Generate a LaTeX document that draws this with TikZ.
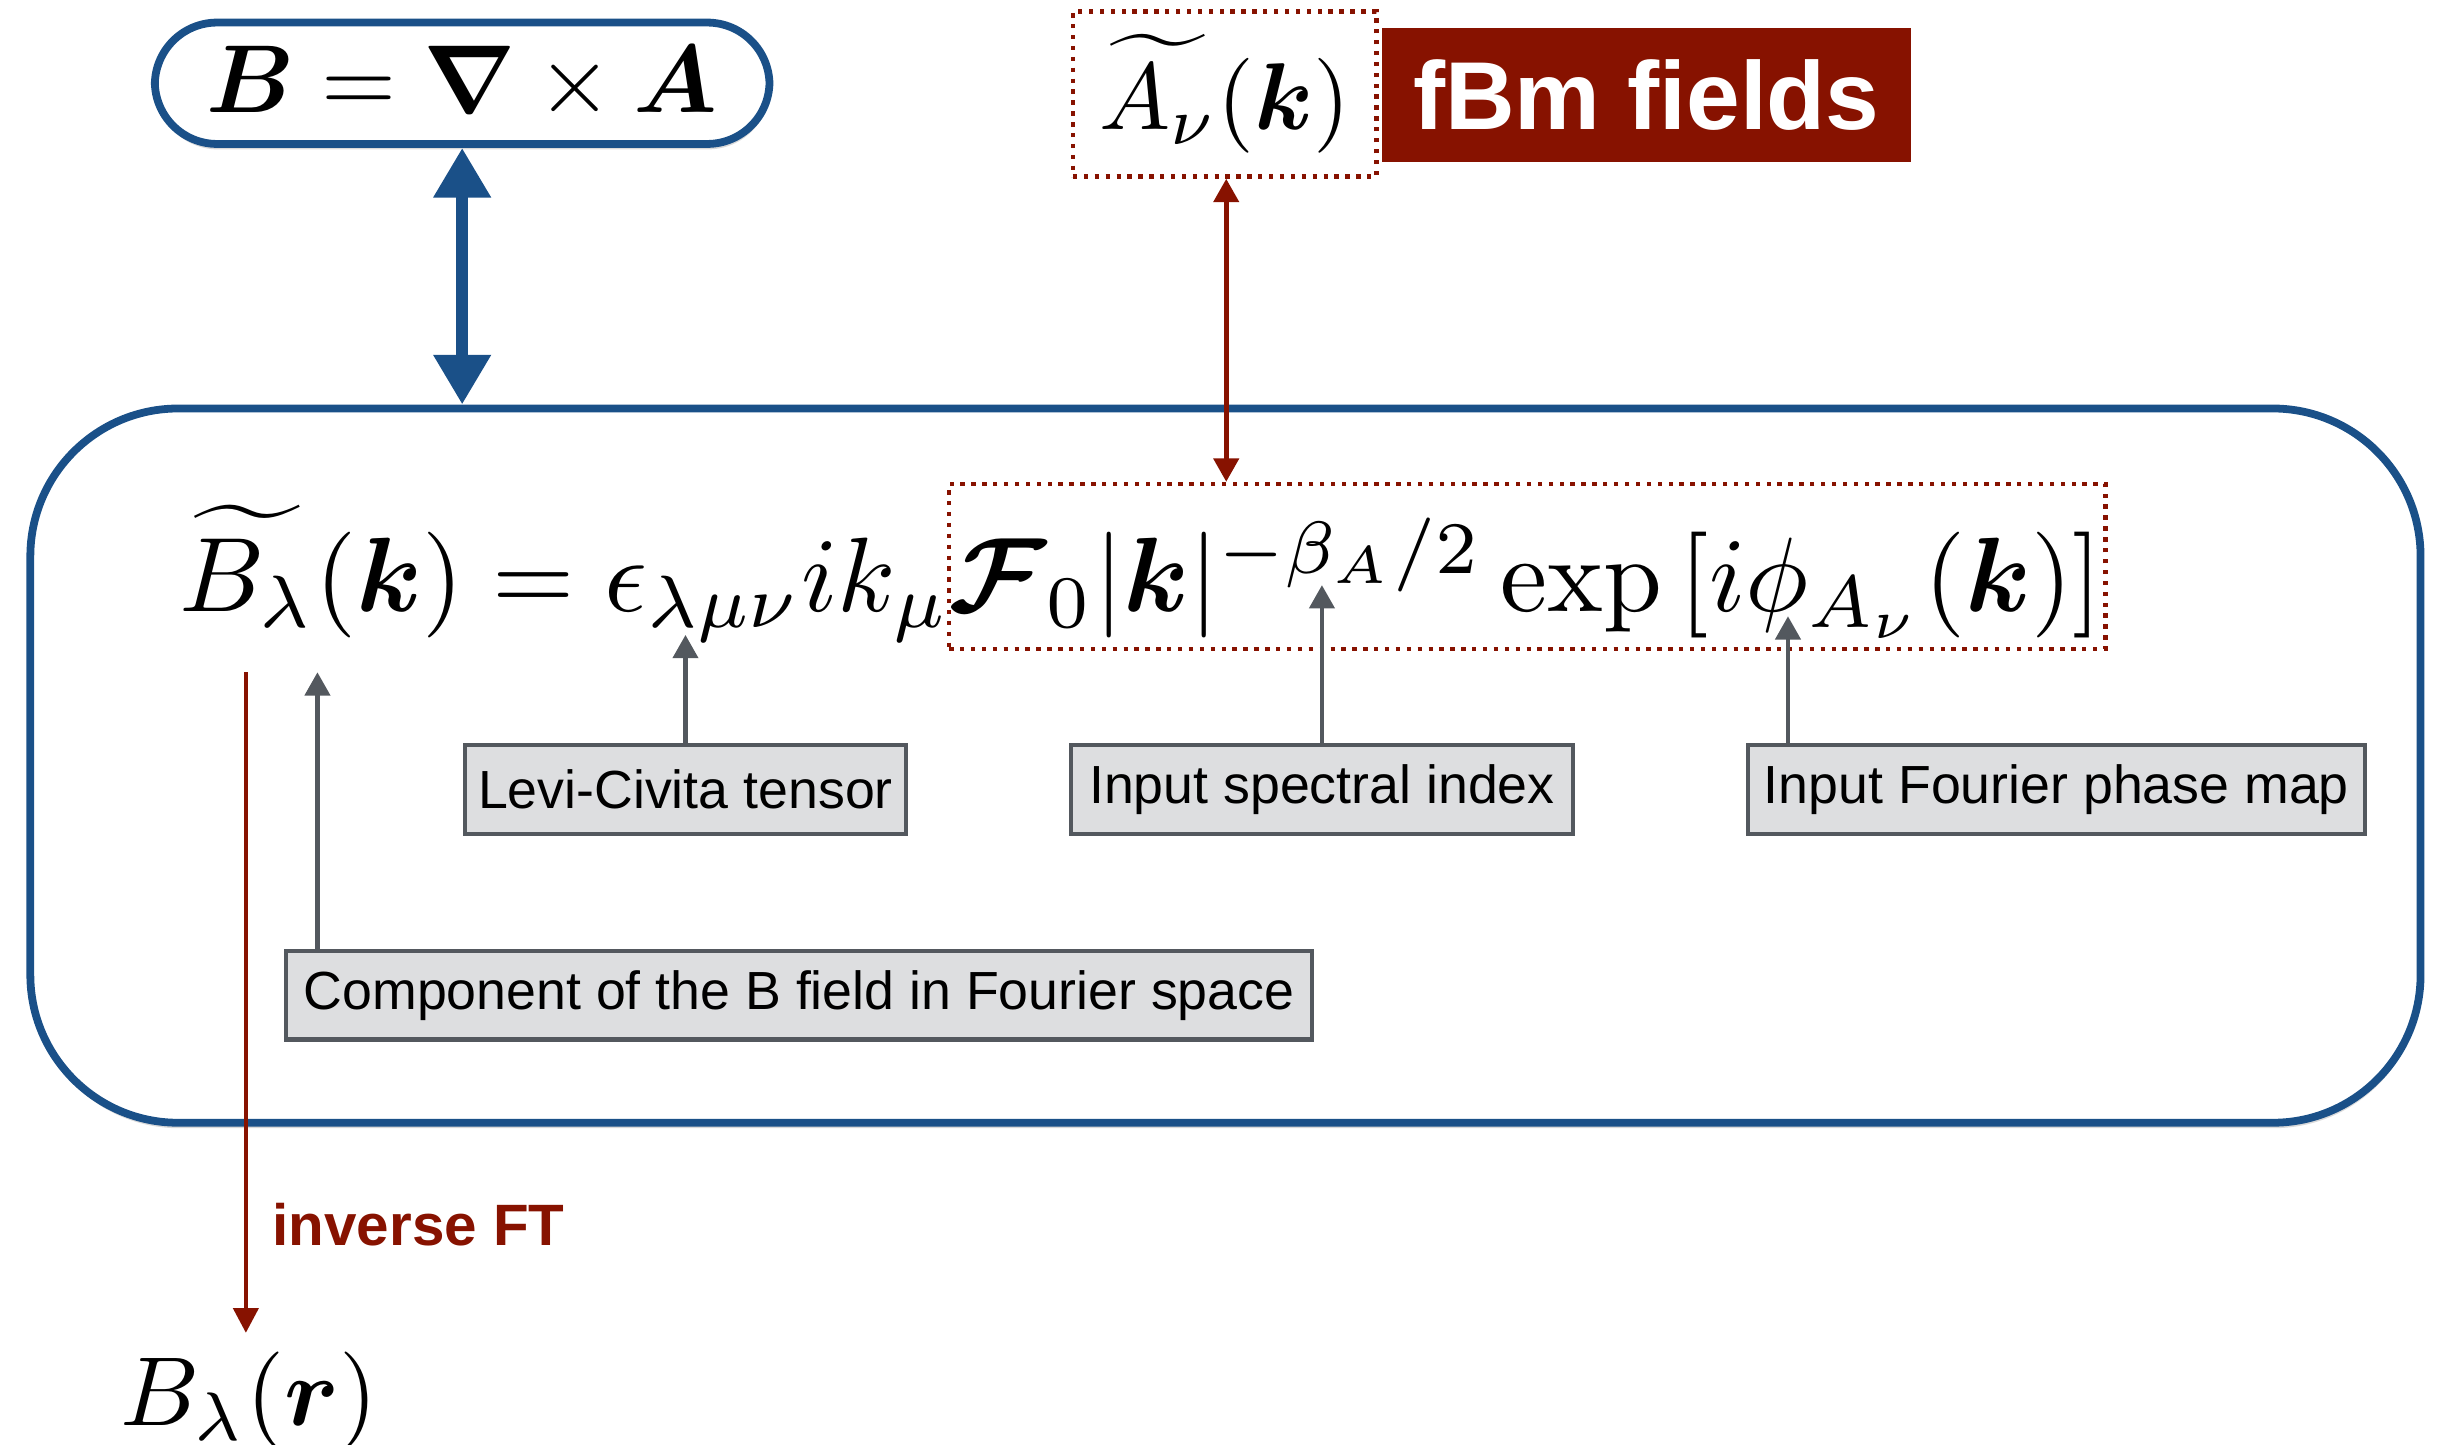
\documentclass[tikz,border=0pt]{standalone}
\usepackage{amsmath,bm}
\usepackage{graphicx}
\usepackage{fontspec}
\newfontfamily\lsans{Liberation Sans}
\usetikzlibrary{arrows.meta,shadows,calc}
\definecolor{bblue}{HTML}{1A5088}
\definecolor{dred}{HTML}{871200}
\definecolor{dgray}{HTML}{53585E}
\definecolor{lgray}{HTML}{DDDEE0}
\tikzset{
  softshadow/.style={drop shadow={shadow xshift=0.5pt,shadow yshift=-3.5pt,opacity=0.15,fill=black}},
  pillbox/.style={draw=bblue,line width=5pt,fill=white,rounded corners=40pt,softshadow,inner sep=0},
  mainbox/.style={draw=bblue,line width=5pt,fill=white,rounded corners=95pt,softshadow,inner sep=0},
  redbox/.style={draw=dred,line width=2.8pt,dash pattern=on 2.8pt off 4.2pt,inner sep=0},
  graybox/.style={draw=dgray,fill=lgray,line width=2.6pt,minimum height=57pt,inner sep=0,
    font=\lsans\fontsize{34.5}{40}\selectfont},
  garrow/.style={draw=dgray,line width=3pt,-{Triangle[width=16pt,length=15pt]}},
  rarrow/.style={draw=dred,line width=3pt,-{Triangle[width=16pt,length=16pt]}},
  rdarrow/.style={draw=dred,line width=3pt,{Triangle[width=16pt,length=15pt]}-{Triangle[width=16pt,length=15pt]}},
  bdarrow/.style={draw=bblue,line width=8pt,{Triangle[width=35pt,length=32pt]}-{Triangle[width=35pt,length=32pt]}},
}
\begin{document}
\begin{tikzpicture}[x=1pt,y=-1pt]
\useasboundingbox (0,0) rectangle (1568,928);

% main rounded box
\node[mainbox,minimum width=1536pt,minimum height=459pt] (main) at (787.5,492) {};

% top pill
\node[pillbox,minimum width=395pt,minimum height=78pt] (curl) at (297,53.5)
  {\scalebox{6.2}{$\bm{B}=\bm{\nabla}\times\bm{A}$}};

% A tilde box and fBm label
\node[redbox,minimum width=195pt,minimum height=106pt] (abox) at (787,60.5)
  {\scalebox{6.1}{$\widetilde{A_{\nu}}(\bm{k})$}};
\node[fill=dred,text=white,minimum width=340pt,minimum height=86pt,inner sep=0,
  font=\lsans\bfseries\fontsize{62}{70}\selectfont] (fbm) at (1058,61) {fBm fields};

% main equation
\node[anchor=base west,inner sep=0] (eq) at (115,393)
  {\scalebox{6.8}{$\widetilde{B_{\lambda}}(\bm{k})=\epsilon_{\lambda\mu\nu}ik_{\mu}\bm{\mathcal{F}}_0|\bm{k}|^{-\beta_A/2}\exp\left[i\phi_{A_\nu}(\bm{k})\right]$}};
\node[redbox,minimum width=743pt,minimum height=106pt] (fbox) at (981.5,364) {};

% label boxes
\node[graybox,minimum width=283pt] (lc) at (440.5,507.5) {Levi-Civita tensor};
\node[graybox,minimum width=323pt] (si) at (849.5,507.5) {Input spectral index};
\node[graybox,minimum width=397pt] (fp) at (1321.5,507.5) {Input Fourier phase map};
\node[graybox,minimum width=659pt] (comp) at (513.5,639.5) {Component of the B field in Fourier space};

% targets in the equation
\coordinate (tLC) at (440.5,408);
\coordinate (tSI) at (849.5,376);
\coordinate (tFP) at (1149,396);
\coordinate (tB) at (204,432);
\coordinate (ifts) at (158,432);

\draw[garrow] (lc.north) -- (tLC);
\draw[garrow] (si.north) -- (tSI);
\draw[garrow] (fp.north -| tFP) -- (tFP);
\draw[garrow] (comp.north -| tB) -- (tB);

% connectors
\draw[bdarrow] (curl.south) -- (main.north -| curl.south);
\draw[rdarrow] (abox.south -| 788,0) -- (fbox.north -| 788,0);

% inverse FT
\node[inner sep=0,anchor=base] (br) at (160,916) {\scalebox{6.3}{$B_{\lambda}(\bm{r})$}};
\draw[rarrow,shorten >=12pt] (ifts) -- (ifts |- br.north);
\node[anchor=west,inner sep=0,text=dred,font=\lsans\bfseries\fontsize{37.5}{40}\selectfont] (ift) at (175,787) {inverse FT};
\end{tikzpicture}
\end{document}
